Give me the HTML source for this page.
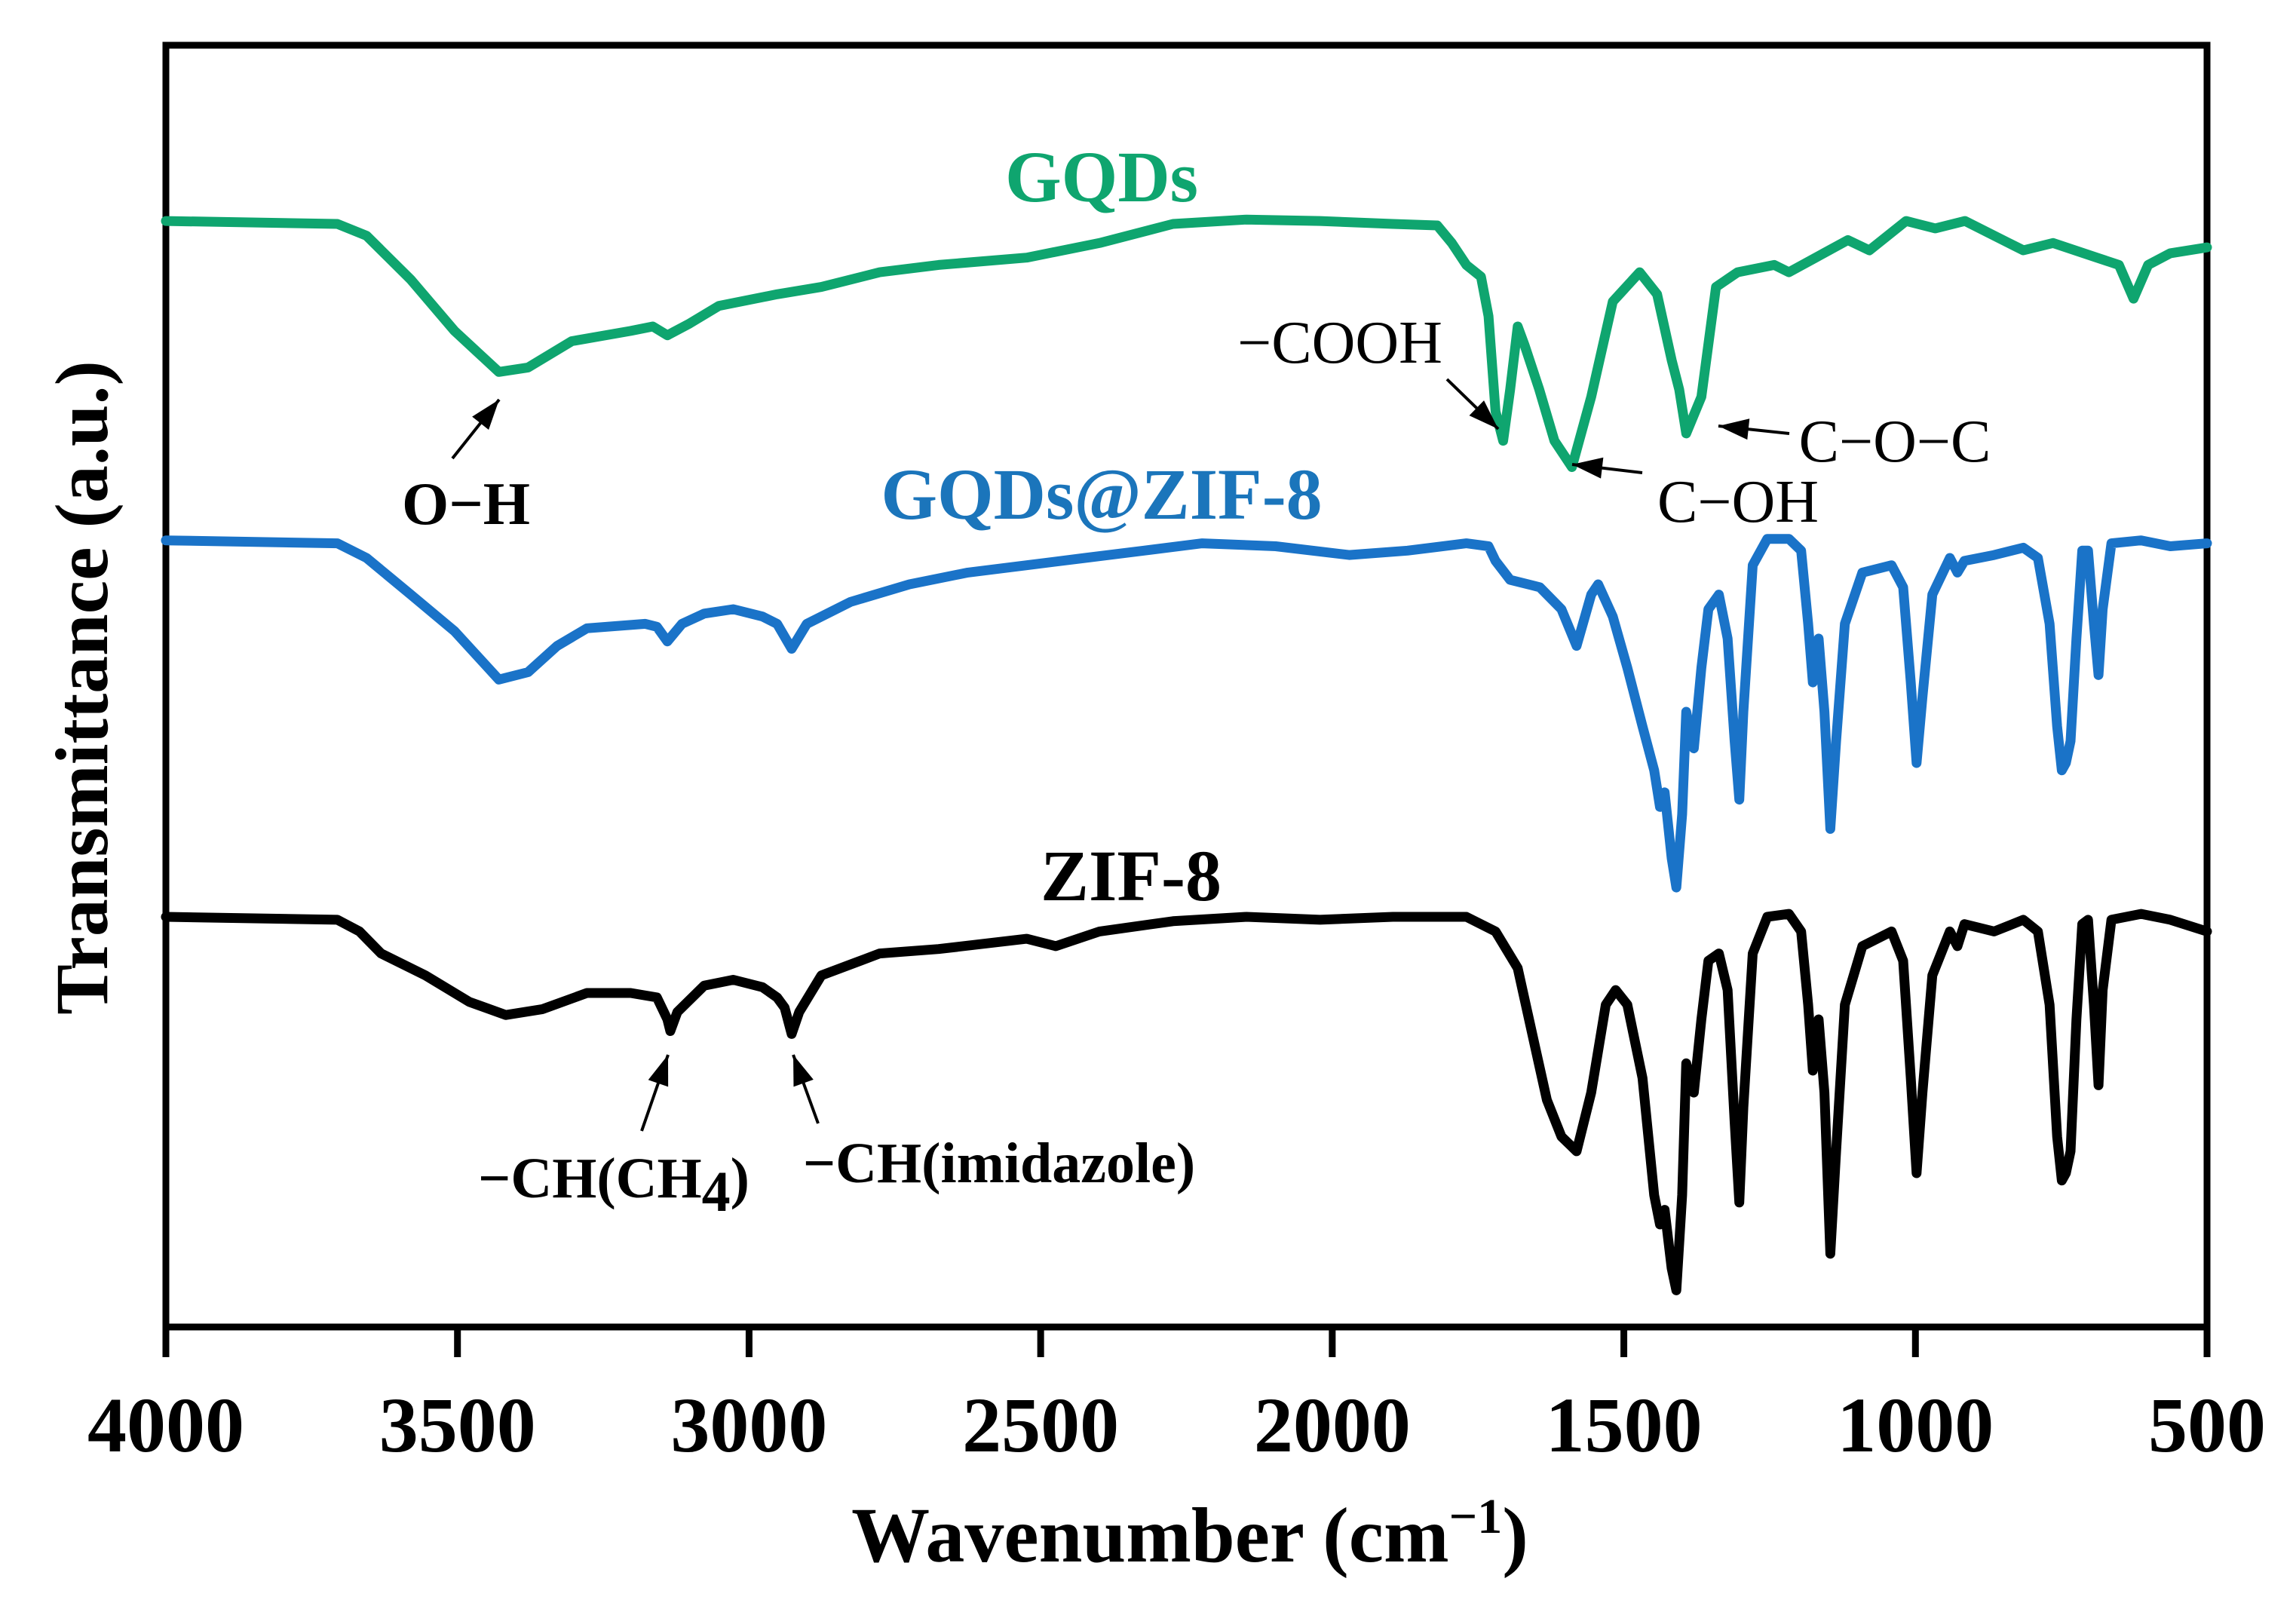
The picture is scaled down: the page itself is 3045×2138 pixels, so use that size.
<!DOCTYPE html>
<html><head><meta charset="utf-8"><style>
html,body{margin:0;padding:0;background:#fff}
svg{display:block}
text{font-family:"Liberation Serif","DejaVu Serif",serif}
</style></head><body>
<svg id="chart" width="3045" height="2138" viewBox="0 0 3045 2138" xmlns="http://www.w3.org/2000/svg">
<rect x="220" y="60" width="2707" height="1700" fill="none" stroke="#000" stroke-width="9"/>
<g id="ticks"></g>
<g id="series"></g>
<text x="1461" y="267" text-anchor="middle" font-size="96" font-weight="bold" fill="#0fa56f">GQDs</text>
<text x="1461" y="688" text-anchor="middle" font-size="96" font-weight="bold" fill="#1b75bb">GQDs@ZIF-8</text>
<text x="1500" y="1194" text-anchor="middle" font-size="96" font-weight="bold" fill="#000">ZIF-8</text>
<text x="618" y="695" text-anchor="middle" font-size="80" font-weight="bold">O−H</text>
<text x="1777" y="481" text-anchor="middle" font-size="80">−COOH</text>
<text x="2305" y="692" text-anchor="middle" font-size="80">C−OH</text>
<text x="2513" y="612" text-anchor="middle" font-size="80">C−O−C</text>
<text x="814" y="1588" text-anchor="middle" font-size="76" font-weight="bold">−CH(CH<tspan dy="18" font-size="76">4</tspan><tspan dy="-18">)</tspan></text>
<text x="1325" y="1568" text-anchor="middle" font-size="76" font-weight="bold">−CH(imidazole)</text>
<g id="arrows"></g>
<text x="1578" y="2071" text-anchor="middle" font-size="104" font-weight="bold">Wavenumber (cm<tspan dy="-38" font-size="66">−1</tspan><tspan dy="38">)</tspan></text>
<text transform="translate(142,912) rotate(-90)" text-anchor="middle" font-size="100" font-weight="bold">Transmittance (a.u.)</text>
</svg>
<script>
const tickValues=[4000,3500,3000,2500,2000,1500,1000,500];
const gqdsW=[4000,3706,3656,3580,3505,3429,3379,3304,3203,3165,3140,3102,3052,2952,2876,2776,2675,2524,2399,2273,2147,2021,1896,1820,1795,1770,1745,1732,1720,1707,1695,1682,1670,1645,1619,1589,1556,1519,1473,1443,1418,1405,1393,1367,1342,1305,1242,1217,1116,1079,1016,966,915,840,815,764,689,651,626,601,563,500];
const gqdsT=[755,753,745,715,680,652,655,673,680,683,677,685,697,705,710,720,725,730,740,753,756,755,753,752,740,725,717,690,625,605,640,683,670,640,605,587,635,700,720,705,660,640,610,635,710,720,725,720,742,735,755,750,755,740,735,740,730,725,702,725,733,737];
const hybW=[4000,3706,3656,3580,3505,3429,3379,3329,3278,3178,3158,3140,3115,3077,3027,2977,2952,2927,2901,2826,2725,2625,2524,2424,2323,2223,2097,1971,1871,1770,1732,1720,1695,1644,1607,1581,1556,1544,1519,1494,1468,1448,1438,1430,1418,1410,1400,1393,1380,1367,1355,1337,1322,1310,1302,1295,1279,1254,1217,1196,1184,1176,1166,1156,1146,1136,1121,1091,1041,1021,1008,998,988,971,941,928,916,865,815,790,770,757,749,742,734,724,714,704,694,686,679,664,613,563,500];
const hybT=[537,535,525,500,475,442,447,465,477,480,478,468,480,487,490,485,480,463,480,495,507,515,520,525,530,535,533,527,530,535,533,523,510,505,490,465,500,507,485,450,410,380,355,365,320,300,350,420,395,450,490,500,470,400,360,420,520,538,538,530,480,440,470,420,340,400,480,515,520,505,440,385,430,500,525,515,523,527,532,525,480,410,380,385,400,470,530,530,480,445,490,535,537,533,535];
const zifW=[4000,3706,3668,3631,3555,3480,3417,3354,3278,3203,3158,3140,3135,3123,3077,3027,2977,2952,2939,2927,2914,2876,2776,2675,2524,2474,2399,2273,2147,2021,1896,1770,1720,1682,1657,1632,1607,1581,1556,1531,1514,1494,1468,1448,1438,1430,1418,1410,1400,1393,1380,1367,1355,1337,1322,1310,1302,1295,1279,1254,1217,1196,1184,1176,1166,1156,1146,1136,1121,1091,1041,1021,1008,998,988,971,941,928,916,865,815,790,770,757,749,742,734,724,714,704,694,686,679,664,613,563,500];
const zifT=[280,278,270,255,240,222,213,217,228,228,225,210,202,215,233,237,232,225,218,200,215,240,255,258,265,260,270,277,280,278,280,280,270,245,200,155,130,120,160,220,230,220,170,90,70,80,40,25,90,180,160,210,250,255,230,140,85,150,255,280,282,270,220,175,210,160,50,120,220,260,270,250,170,105,160,240,270,260,275,270,278,270,220,130,100,105,120,210,275,278,220,165,230,278,282,278,270];
const X0=220,X1=2927,YB=1760;
function xs(w){return X0+(4000-w)/3500*(X1-X0);}
function ys(v){return YB-v/875*1700;}
const NS="http://www.w3.org/2000/svg";
const tg=document.getElementById('ticks');
tickValues.forEach(t=>{
  const l=document.createElementNS(NS,'line');
  l.setAttribute('x1',xs(t));l.setAttribute('x2',xs(t));l.setAttribute('y1',1760);l.setAttribute('y2',1800);
  l.setAttribute('stroke','#000');l.setAttribute('stroke-width','9');
  
  
  tg.appendChild(l);
  const tx=document.createElementNS(NS,'text');
  tx.setAttribute('x',xs(t));tx.setAttribute('y',1925);tx.setAttribute('text-anchor','middle');
  tx.setAttribute('font-size','104');tx.setAttribute('font-weight','bold');
  tx.textContent=t;
  
  
  tg.appendChild(tx);
});
const sg=document.getElementById('series');
function drawSeries(W,T,color,name){
  let d='';
  W.forEach((w,i)=>{d+=(i?'L':'M')+xs(w).toFixed(1)+','+ys(T[i]).toFixed(1);});
  const p=document.createElementNS(NS,'path');
  p.setAttribute('d',d);p.setAttribute('fill','none');p.setAttribute('stroke',color);
  p.setAttribute('stroke-width','13');p.setAttribute('stroke-linejoin','round');p.setAttribute('stroke-linecap','round');
  
  
  sg.appendChild(p);
}
drawSeries(gqdsW,gqdsT,'#0fa56f','gqds-line');
drawSeries(hybW,hybT,'#1a73c8','gqds-zif8-line');
drawSeries(zifW,zifT,'#000','zif8-line');
const ag=document.getElementById('arrows');
const arrowDefs=[[600,608,662,530],[1919,503,1987,569],[2178,627,2085,616],[2373,575,2279,565],[851,1500,886,1399],[1085,1490,1052,1399]];
arrowDefs.forEach(a=>{
  const [x1,y1,x2,y2]=a;
  const l=document.createElementNS(NS,'line');
  l.setAttribute('x1',x1);l.setAttribute('y1',y1);l.setAttribute('x2',x2);l.setAttribute('y2',y2);
  l.setAttribute('stroke','#000');l.setAttribute('stroke-width','4');
  
  
  ag.appendChild(l);
  const dx=x2-x1,dy=y2-y1,len=Math.hypot(dx,dy),ux=dx/len,uy=dy/len,L=40,H=14;
  const bx=x2-ux*L,by=y2-uy*L;
  const pg=document.createElementNS(NS,'polygon');
  pg.setAttribute('points',`${x2},${y2} ${bx-uy*H},${by+ux*H} ${bx+uy*H},${by-ux*H}`);
  pg.setAttribute('fill','#000');
  
  
  ag.appendChild(pg);
});
</script>
</body></html>
